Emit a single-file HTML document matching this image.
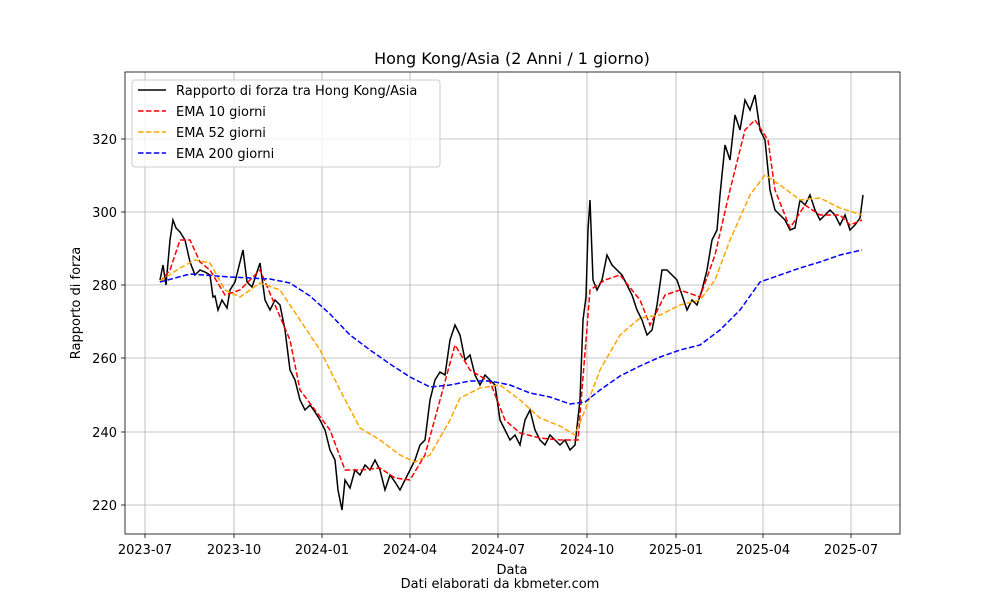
<!DOCTYPE html>
<html><head><meta charset="utf-8"><style>body{margin:0;background:#fff}svg{display:block}text{font-family:"DejaVu Sans","Liberation Sans",sans-serif;fill:#000}</style></head><body>
<svg width="1000" height="600" viewBox="0 0 1000 600">
<rect width="1000" height="600" fill="#fff"/>
<g stroke="#b0b0b0" stroke-width="0.8">
<line x1="145" y1="72" x2="145" y2="534"/><line x1="234" y1="72" x2="234" y2="534"/><line x1="322" y1="72" x2="322" y2="534"/><line x1="410" y1="72" x2="410" y2="534"/><line x1="498" y1="72" x2="498" y2="534"/><line x1="587" y1="72" x2="587" y2="534"/><line x1="676" y1="72" x2="676" y2="534"/><line x1="763" y1="72" x2="763" y2="534"/><line x1="851" y1="72" x2="851" y2="534"/>
<line x1="125" y1="505" x2="900" y2="505"/><line x1="125" y1="432" x2="900" y2="432"/><line x1="125" y1="358" x2="900" y2="358"/><line x1="125" y1="285" x2="900" y2="285"/><line x1="125" y1="212" x2="900" y2="212"/><line x1="125" y1="139" x2="900" y2="139"/>
</g>
<g fill="none" stroke-width="1.5">
<polyline stroke="#000" points="160,280 163,265 166,285 170,240 173,220 176,228 180,232 185,240 190,262 195,275 200,270 205,272 210,275 213,297 215,296 218,310 222,300 227,308 230,290 235,282 240,262 243,250 247,282 252,287 256,275 260,263 265,300 270,310 275,300 280,305 285,330 290,370 295,380 300,400 305,410 310,405 315,412 320,420 325,430 330,450 335,460 338,490 342,510 345,480 350,488 355,470 360,475 365,465 370,470 375,460 380,470 385,490 390,475 395,482 400,490 405,480 410,470 415,460 420,445 425,440 430,400 435,380 440,372 445,375 450,340 455,325 460,335 465,360 470,355 475,375 480,385 485,375 490,380 495,385 500,420 505,430 510,440 515,435 520,445 525,420 530,410 535,430 540,440 545,445 550,435 555,440 560,445 565,440 570,450 575,445 580,400 583,320 586,297 588,230 590,200 593,280 597,290 602,280 607,255 612,265 617,270 622,275 627,285 632,295 637,310 642,320 647,335 652,330 657,305 662,270 667,270 672,275 677,280 682,295 687,310 692,300 697,305 702,290 707,270 712,240 717,230 720,195 725,145 730,160 735,115 740,130 745,100 750,110 755,95 760,130 765,140 770,190 775,210 780,215 785,220 790,230 795,228 800,200 805,205 810,195 815,210 820,220 825,215 830,210 835,215 840,225 845,215 850,230 855,225 860,218 863,195"/>
<polyline stroke="#ff0000" stroke-dasharray="5.5,2.4" points="160,282 170,270 180,240 190,240 200,262 210,270 225,295 240,290 260,270 275,305 290,340 300,390 315,410 330,430 345,470 360,470 380,468 395,478 410,480 425,455 440,400 455,345 470,370 490,382 505,420 520,433 540,438 560,440 578,440 590,290 605,280 620,275 640,300 650,325 665,295 680,290 700,297 715,255 730,190 745,130 755,120 768,140 775,190 790,228 805,205 820,215 840,215 850,225 862,220"/>
<polyline stroke="#ffa500" stroke-dasharray="5.5,2.4" points="160,281 180,268 195,260 210,263 225,290 240,297 260,283 280,290 300,320 320,350 340,390 360,428 380,440 400,455 415,462 430,455 450,420 460,398 480,388 500,385 520,400 540,418 560,426 575,435 585,410 600,370 620,335 640,318 660,315 680,305 700,300 715,280 730,240 750,195 765,175 780,185 800,200 820,198 840,208 862,215"/>
<polyline stroke="#0000ff" stroke-dasharray="5.5,2.4" points="160,282 190,274 230,277 270,279 290,283 310,296 330,314 350,335 370,350 390,364 410,377 430,387 450,385 470,381 490,381 510,385 530,393 550,397 570,404 585,402 600,390 620,376 640,366 660,357 680,350 700,345 720,330 740,310 760,282 780,275 800,268 820,262 840,255 862,250"/>
</g>
<rect x="125" y="72" width="775" height="462" fill="none" stroke="#000" stroke-width="0.8"/>
<g stroke="#000" stroke-width="0.8">
<line x1="145" y1="534" x2="145" y2="538"/><line x1="234" y1="534" x2="234" y2="538"/><line x1="322" y1="534" x2="322" y2="538"/><line x1="410" y1="534" x2="410" y2="538"/><line x1="498" y1="534" x2="498" y2="538"/><line x1="587" y1="534" x2="587" y2="538"/><line x1="676" y1="534" x2="676" y2="538"/><line x1="763" y1="534" x2="763" y2="538"/><line x1="851" y1="534" x2="851" y2="538"/>
<line x1="121" y1="505" x2="125" y2="505"/><line x1="121" y1="432" x2="125" y2="432"/><line x1="121" y1="358" x2="125" y2="358"/><line x1="121" y1="285" x2="125" y2="285"/><line x1="121" y1="212" x2="125" y2="212"/><line x1="121" y1="139" x2="125" y2="139"/>
</g>
<g font-size="13" text-anchor="middle">
<text x="145" y="554">2023-07</text><text x="234" y="554">2023-10</text><text x="322" y="554">2024-01</text><text x="410" y="554">2024-04</text><text x="498" y="554">2024-07</text><text x="587" y="554">2024-10</text><text x="676" y="554">2025-01</text><text x="763" y="554">2025-04</text><text x="851" y="554">2025-07</text>
<text x="512" y="574">Data</text><text x="500" y="588">Dati elaborati da kbmeter.com</text>
<text x="512" y="64" font-size="16">Hong Kong/Asia (2 Anni / 1 giorno)</text>
<text transform="translate(80,303) rotate(-90)">Rapporto di forza</text>
</g>
<g font-size="13" text-anchor="end">
<text x="117" y="510">220</text><text x="117" y="437">240</text><text x="117" y="363">260</text><text x="117" y="290">280</text><text x="117" y="217">300</text><text x="117" y="144">320</text>
</g>
<rect x="132" y="80" width="308" height="87" rx="3" fill="#fff" fill-opacity="0.8" stroke="#ccc"/>
<g stroke-width="1.5">
<line x1="138" y1="90" x2="166" y2="90" stroke="#000"/>
<line x1="138" y1="111" x2="166" y2="111" stroke="#f00" stroke-dasharray="5.5,2.4"/>
<line x1="138" y1="132" x2="166" y2="132" stroke="#ffa500" stroke-dasharray="5.5,2.4"/>
<line x1="138" y1="153" x2="166" y2="153" stroke="#00f" stroke-dasharray="5.5,2.4"/>
</g>
<g font-size="13">
<text x="176" y="95">Rapporto di forza tra Hong Kong/Asia</text>
<text x="176" y="116">EMA 10 giorni</text>
<text x="176" y="137">EMA 52 giorni</text>
<text x="176" y="158">EMA 200 giorni</text>
</g>
</svg>
</body></html>
